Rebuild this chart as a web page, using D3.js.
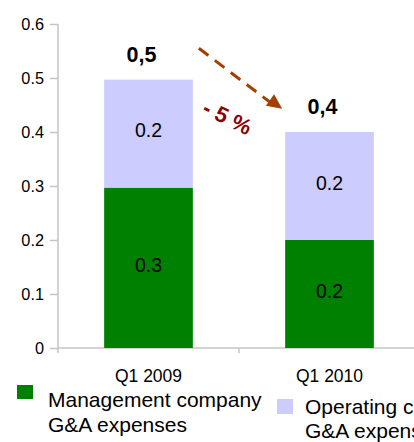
<!DOCTYPE html>
<html><head><meta charset="utf-8">
<script src="https://cdnjs.cloudflare.com/ajax/libs/d3/7.8.5/d3.min.js"></script>
<style>body{margin:0;background:#fff;}svg{display:block;font-family:"Liberation Sans",Arial,sans-serif;}</style>
</head><body>
<script>
const categories = ["Q1 2009", "Q1 2010"];
const seriesNames = ["Management company G&A expenses", "Operating companies G&A expenses"];
const managementValues = [0.297, 0.2];
const operatingValues = [0.2, 0.2];
const totalLabels = ["0,5", "0,4"];
const yTicks = [0, 0.1, 0.2, 0.3, 0.4, 0.5, 0.6];
const changeLabel = "- 5 %";

const W = 414, H = 442;
const svg = d3.select("body").append("svg").attr("width", W).attr("height", H);

const x = d3.scaleBand().domain(categories).range([58, 420]).paddingInner(0.51).paddingOuter(0.255);
const y = d3.scaleLinear().domain([0, 0.6]).range([348, 24]);

const colors = ["#008000", "#CCCCFF"];
const data = categories.map((c, i) => ({cat: c, m: managementValues[i], o: operatingValues[i]}));
const stack = d3.stack().keys(["m", "o"])(data);

// axes
const yAxis = svg.append("g").attr("transform", "translate(58,0)")
  .call(d3.axisLeft(y).tickValues(yTicks).tickSize(8).tickPadding(6).tickFormat(d3.format("")));
yAxis.select(".domain").attr("stroke", "#c4c4c4").attr("stroke-width", 1.5).attr("d", "M0,24V348");
yAxis.selectAll(".tick line").attr("stroke", "#c4c4c4").attr("stroke-width", 1.5);
yAxis.selectAll(".tick text").attr("font-size", 16.3).attr("fill", "#000").attr("font-family", "Liberation Sans, Arial, sans-serif");

const xg = svg.append("g").attr("transform", "translate(0,348)");
xg.append("line").attr("x1", 58).attr("x2", 420).attr("stroke", "#c4c4c4").attr("stroke-width", 1.5);
const boundaries = [58, 58 + (420 - 58) / 2, 420];
xg.selectAll("line.tk").data(boundaries).join("line").attr("class", "tk")
  .attr("x1", d => d).attr("x2", d => d).attr("y1", 0).attr("y2", 5)
  .attr("stroke", "#c4c4c4").attr("stroke-width", 1.5);
xg.selectAll("text").data(categories).join("text")
  .attr("x", d => x(d) + x.bandwidth() / 2).attr("y", 34)
  .attr("text-anchor", "middle").attr("font-size", 17.5).text(d => d);

// bars
stack.forEach((layer, li) => {
  const g = svg.append("g");
  g.selectAll("rect").data(layer).join("rect")
    .attr("x", d => x(d.data.cat)).attr("width", x.bandwidth())
    .attr("y", d => y(d[1])).attr("height", d => y(d[0]) - y(d[1]))
    .attr("fill", colors[li]);
  g.selectAll("text").data(layer).join("text")
    .attr("x", d => x(d.data.cat) + x.bandwidth() / 2)
    .attr("y", d => (y(d[0]) + y(d[1])) / 2 - 3)
    .attr("dy", "0.35em").attr("text-anchor", "middle").attr("font-size", 19.5)
    .text(d => d3.format(".1f")(d[1] - d[0]));
});

// totals
svg.selectAll("text.total").data(data).join("text").attr("class", "total")
  .attr("x", d => x(d.cat) + x.bandwidth() / 2 - 7)
  .attr("y", d => y(d.m + d.o) - 18)
  .attr("text-anchor", "middle").attr("font-size", 21.5).attr("font-weight", "bold")
  .text((d, i) => totalLabels[i]);

// arrow
const x1 = x(categories[0]) + x.bandwidth() + 6, y1 = y(0.555);
const x2 = x(categories[1]) - 3, y2 = y(0.443);
svg.append("line").attr("x1", x1).attr("y1", y1).attr("x2", x2 - 10).attr("y2", y2 - 5)
  .attr("stroke", "#A33F00").attr("stroke-width", 3).attr("stroke-dasharray", "12,8");
svg.append("path")
  .attr("d", () => {
    const ang = Math.atan2(y2 - y1, x2 - x1);
    const L = 15, Wd = 7;
    const bx = x2 - L * Math.cos(ang), by = y2 - L * Math.sin(ang);
    const px = -Math.sin(ang) * Wd, py = Math.cos(ang) * Wd;
    return `M${x2},${y2}L${bx + px},${by + py}L${bx - px},${by - py}Z`;
  }).attr("fill", "#A33F00");

svg.append("text").attr("transform", `translate(224,${y(0.42) + 3}) rotate(26)`)
  .attr("text-anchor", "middle").attr("font-size", 22).attr("font-weight", "bold")
  .attr("fill", "#8B0000").text(changeLabel);

// legend
const leg1 = svg.append("g");
leg1.append("rect").attr("x", 17).attr("y", 385).attr("width", 16).attr("height", 14).attr("fill", colors[0]);
leg1.append("text").attr("x", 48).attr("y", 406.5).attr("font-size", 21).text("Management company");
leg1.append("text").attr("x", 48).attr("y", 431.5).attr("font-size", 21).text("G&A expenses");
const leg2 = svg.append("g");
leg2.append("rect").attr("x", 277).attr("y", 399).attr("width", 16).attr("height", 15).attr("fill", colors[1]);
leg2.append("text").attr("x", 305).attr("y", 414).attr("font-size", 21).text("Operating companies");
leg2.append("text").attr("x", 305).attr("y", 437.5).attr("font-size", 21).text("G&A expenses");
</script>
</body></html>
